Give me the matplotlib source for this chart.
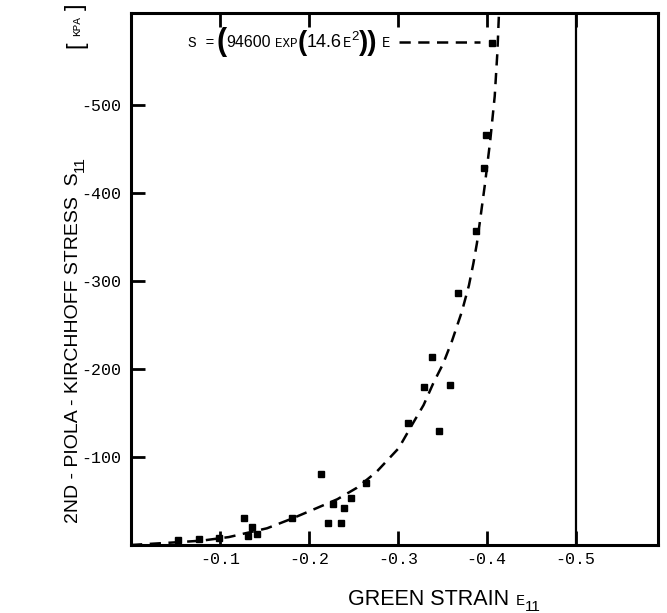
import numpy as np
import matplotlib
matplotlib.use("Agg")
import matplotlib.pyplot as plt

# measured points (green strain, PK2 stress in kPa)
strain = [-0.053, -0.077, -0.099, -0.127, -0.132, -0.136, -0.142, -0.181, -0.214,
          -0.222, -0.227, -0.236, -0.240, -0.247, -0.264, -0.312, -0.330, -0.339,
          -0.346, -0.359, -0.368, -0.388, -0.397, -0.399, -0.406]
stress = [-5.7, -6.8, -8, -30.7, -10, -20.5, -12.5, -30.7, -80.7,
          -25, -46.6, -25, -42, -53.4, -70.5, -138.6, -180, -213.6,
          -130, -182, -286.7, -356.8, -428, -466, -570]

# fitted curve
curve_e = [0.0, -0.05, -0.08, -0.11, -0.153, -0.181, -0.209, -0.232, -0.254, -0.276,
           -0.301, -0.318, -0.329, -0.340, -0.351, -0.361, -0.372, -0.380, -0.385,
           -0.389, -0.392, -0.398, -0.404, -0.409, -0.412, -0.414]
curve_s = [0, -3, -5, -9, -19, -30, -42, -52, -65, -83,
           -110, -140, -159, -184, -206, -232, -265, -295, -320,
           -343, -365, -410, -460, -510, -560, -610]

xticks = [-0.1, -0.2, -0.3, -0.4, -0.5]
xticklabels = ["-0.1", "-0.2", "-0.3", "-0.4", "-0.5"]
yticks = [-100, -200, -300, -400, -500]
yticklabels = ["-100", "-200", "-300", "-400", "-500"]

mono = "Liberation Mono"
sans = "Liberation Sans"
W, H = 667, 613

fig = plt.figure(figsize=(6.67, 6.13), dpi=100)
ax = fig.add_axes([131/W, 68/H, 527/W, 532/H])

ax.plot(curve_e, curve_s, color='k', lw=1.8, ls=(0, (4.5, 3)))
ax.plot(strain, stress, 's', color='k', ms=4.4, mec='k')
ax.axvline(-0.5, color='k', lw=1.6)

ax.set_xlim(0, -0.5926)
ax.set_ylim(0, -604.5)

ax.set_xticks(xticks)
ax.set_xticklabels(xticklabels, fontfamily=mono, fontsize=12)
ax.set_yticks(yticks)
ax.set_yticklabels(yticklabels, fontfamily=mono, fontsize=12)
ax.tick_params(axis='both', direction='in', length=10, width=2, top=True)
ax.tick_params(axis='x', pad=5)
ax.tick_params(axis='y', pad=7)
for s in ax.spines.values():
    s.set_linewidth(2.2)

r = fig.canvas.get_renderer()


def chain_h(pieces, x, base):
    # pieces: text, family, size, weight, raise_px, gap_after
    for txt, fam, size, wt, up, gap in pieces:
        t = fig.text(x/W, (H - base + up)/H, txt, fontfamily=fam, fontsize=size,
                     fontweight=wt, va='baseline', ha='left')
        x = t.get_window_extent(r).x1 + gap
    return x


def chain_v(pieces, xc, y):
    # rotated text running upwards; y in pixels from the bottom
    for txt, fam, size, shift, gap in pieces:
        t = fig.text((xc + shift)/W, y/H, txt, fontfamily=fam, fontsize=size,
                     rotation=90, ha='center', va='bottom')
        y = t.get_window_extent(r).y1 + gap
    return y


# equation legend at top
end = chain_h([
    ("S =", mono, 10.5, 'normal', 0, 2),
    ("(", sans, 22, 'bold', -3, 0),
    ("94600", sans, 11.5, 'normal', 0, 4),
    ("EXP", mono, 9, 'normal', 0, 0),
    ("(", sans, 20, 'bold', -3, 0),
    ("14.6", sans, 13, 'normal', 0, 1),
    ("E", mono, 10, 'normal', 0, 0),
    ("2", sans, 9.5, 'normal', 7, 1),
    ("))", sans, 20, 'bold', -3, 4),
    ("E", mono, 10, 'normal', 0, 0),
], 188, 47)
ax.plot([(end + 9 - 131)/527, (480 - 131)/527], [0.9455, 0.9455], transform=ax.transAxes,
        color='k', lw=1.8, ls=(0, (4.5, 3)))

# x label
chain_h([
    ("GREEN STRAIN", sans, 15.5, 'normal', 0, 7),
    ("E", mono, 11, 'normal', 0, 0),
    ("11", sans, 11, 'normal', -6, 0),
], 348, 605)

# y label
chain_v([
    ("2ND - PIOLA - KIRCHHOFF STRESS  S", sans, 14, 0, 0),
    ("11", sans, 11, 6, 0),
], 74, H - 523)
fig.text(76/W, (H - 48)/H, "[", fontfamily=sans, fontsize=17, rotation=90,
         ha='center', va='bottom')
fig.text(77/W, (H - 26)/H, "KPA", fontfamily=mono, fontsize=8, rotation=90,
         ha='center', va='center')
fig.text(76/W, (H - 4)/H, "]", fontfamily=sans, fontsize=17, rotation=90,
         ha='center', va='top')

fig.savefig("out.png", dpi=100)
